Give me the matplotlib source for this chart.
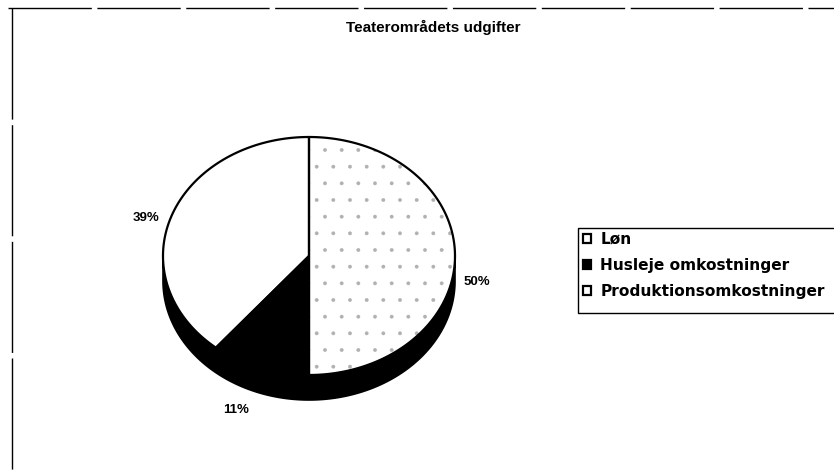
import numpy as np
import matplotlib
matplotlib.use("Agg")
import matplotlib.pyplot as plt
from matplotlib.patches import Polygon, Rectangle, Patch

plt.rcParams['font.family'] = ['Liberation Sans', 'DejaVu Sans']
plt.rcParams['hatch.linewidth'] = 0.3

# ---- data ----
title = "Teaterområdets udgifter"
categories = ["Løn", "Husleje omkostninger", "Produktionsomkostninger"]
values = [50, 11, 39]
labels = ["50%", "11%", "39%"]
face_colors = ["white", "black", "white"]
hatches = [".", None, None]

# ---- layout (pixel space) ----
W, H = 834, 470
cx, cy = 309, 256          # centre of top ellipse
a, b = 146, 119            # semi-axes
depth = 25
label_k = [(1.15, 1.0, 26), (1.47, 1.15, 25), (1.19, 0.94, 0)]

fig = plt.figure(figsize=(W / 100, H / 100), dpi=100)
ax = fig.add_axes([0, 0, 1, 1])
ax.set_xlim(0, W)
ax.set_ylim(H, 0)
ax.axis('off')


def pt(theta_deg, dy=0.0):
    t = np.deg2rad(theta_deg)
    return cx + a * np.cos(t), cy - b * np.sin(t) + dy


# side wall (front half of the disc)
th = np.linspace(180, 360, 200)
top = np.array([pt(t) for t in th])
bot = np.array([pt(t, depth) for t in th[::-1]])
ax.add_patch(Polygon(np.vstack([top, bot]), closed=True, facecolor='black',
                     edgecolor='black', lw=1.2, zorder=1))

# top slices, clockwise from 12 o'clock
fracs = np.array(values) / np.sum(values)
start = 90.0
for i, f in enumerate(fracs):
    end = start - 360 * f
    ths = np.linspace(start, end, 200)
    arc = np.array([pt(t) for t in ths])
    poly = np.vstack([[cx, cy], arc])
    ax.add_patch(Polygon(poly, closed=True, facecolor=face_colors[i],
                         edgecolor='none', lw=0, zorder=2))
    if hatches[i]:
        ax.add_patch(Polygon(poly, closed=True, facecolor='none',
                             edgecolor='#b0b0b0', lw=0, hatch=hatches[i],
                             zorder=2.1))
    ax.add_patch(Polygon(poly, closed=True, facecolor='none',
                         edgecolor='black', lw=1.6, joinstyle='round',
                         zorder=2.2))
    mid = np.deg2rad((start + end) / 2)
    kx, ky, dy = label_k[i]
    lx = cx + kx * a * np.cos(mid)
    ly = cy - ky * b * np.sin(mid) + dy
    ax.text(lx, ly, labels[i], ha='center', va='center', fontsize=9.5,
            fontweight='bold', zorder=3)
    start = end

# title
ax.text(433, 27, title, ha='center', va='center', fontsize=11,
        fontweight='bold')

# outer frame (top and left edges visible)
ax.plot([8, W], [8, 8], color='black', lw=1.0, dashes=(60, 4))
ax.plot([12, 12], [8, H], color='black', lw=1.0, dashes=(80, 4))

# legend box
ax.add_patch(Rectangle((578, 228), 300, 85, facecolor='none',
                       edgecolor='black', lw=1.0, clip_on=True))
handles = [Patch(facecolor=face_colors[i], edgecolor='black', lw=1.6)
           for i in range(len(categories))]
leg = ax.legend(handles, categories, loc='upper left',
                bbox_to_anchor=(579 / W, 1 - 228 / H),
                bbox_transform=fig.transFigure, frameon=False,
                handlelength=0.52, handleheight=0.52, handletextpad=0.62,
                labelspacing=0.72, borderaxespad=0, borderpad=0.25,
                prop={'family': 'DejaVu Sans', 'weight': 'bold', 'size': 11.1})

fig.savefig("out.png", dpi=100)
